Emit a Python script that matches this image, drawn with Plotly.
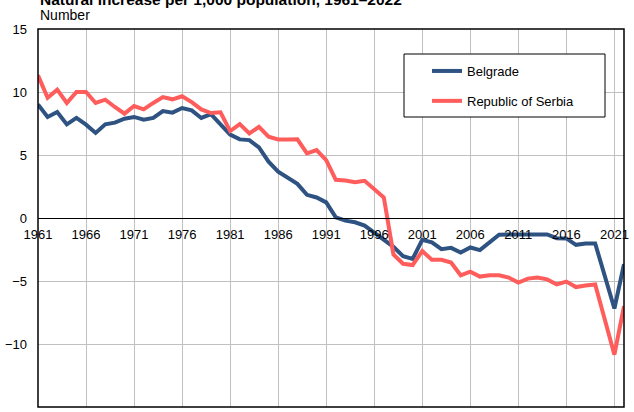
import plotly.graph_objects as go

years = list(range(1961, 2023))

belgrade = [9.0, 8.02, 8.41, 7.43, 7.94, 7.41, 6.75, 7.43, 7.57, 7.88,
            8.02, 7.80, 7.94, 8.49, 8.36, 8.73, 8.54, 7.94, 8.25, 7.49,
            6.62, 6.24, 6.18, 5.6, 4.47, 3.68, 3.24, 2.71, 1.84, 1.63,
            1.24, 0.05, -0.21, -0.34, -0.6, -1.18, -1.71, -2.29, -3.03, -3.24,
            -1.74, -1.94, -2.47, -2.37, -2.74, -2.34, -2.55, -1.94, -1.33, -1.30,
            -1.30, -1.30, -1.30, -1.30, -1.6, -1.62, -2.13, -2.02, -2.02, -4.47,
            -7.18, -3.67]

serbia = [11.32, 9.55, 10.19, 9.13, 10.0, 10.0, 9.13, 9.39, 8.81, 8.28,
          8.89, 8.62, 9.13, 9.6, 9.42, 9.66, 9.2, 8.62, 8.33, 8.39,
          6.9, 7.45, 6.71, 7.24, 6.45, 6.24, 6.24, 6.25, 5.13, 5.39,
          4.6, 3.03, 2.97, 2.84, 2.95, 2.24, 1.63, -2.89, -3.63, -3.73,
          -2.62, -3.32, -3.32, -3.54, -4.55, -4.26, -4.65, -4.55, -4.55, -4.73,
          -5.13, -4.81, -4.73, -4.87, -5.27, -5.05, -5.48, -5.35, -5.27, -8.06,
          -10.85, -6.99]

x_ticks = list(range(1961, 2022, 5))
y_ticks = [-15, -10, -5, 0, 5, 10, 15]

title_text = "Natural increase per 1,000 population, 1961–2022"
unit_text = "Number"

FONT = "Liberation Sans, Arial, sans-serif"

fig = go.Figure()
fig.add_trace(go.Scatter(x=years, y=belgrade, mode="lines", name="Belgrade",
                         line=dict(color="#2E5282", width=4), legendgroup="a"))
fig.add_trace(go.Scatter(x=years, y=serbia, mode="lines", name="Republic of Serbia",
                         line=dict(color="#FF5C5C", width=4), legendgroup="b"))

L, R, T, B = 38, 10, 29, 5
W, H = 634, 412
pw, ph = W - L - R, H - T - B

def px2x(px):
    return (px - L) / pw

def py2y(py):
    return (H - B - py) / ph

fig.update_layout(
    width=W, height=H,
    margin=dict(l=L, r=R, t=T, b=B),
    plot_bgcolor="white", paper_bgcolor="white",
    font=dict(family=FONT, size=13, color="black"),
    showlegend=True,
    legend=dict(x=px2x(427), y=py2y(56), xanchor="left", yanchor="top",
                bgcolor="rgba(0,0,0,0)", borderwidth=0,
                font=dict(size=13), tracegroupgap=10, traceorder="grouped"),
    xaxis=dict(range=[1961, 2022], tickvals=x_ticks, ticktext=[str(v) for v in x_ticks],
               showgrid=True, gridcolor="#C0C0C0", gridwidth=1,
               anchor="free", position=0.5, showline=True, linecolor="black", linewidth=1,
               ticks="", ticklabelstandoff=4, zeroline=False),
    yaxis=dict(range=[-15, 15], tickvals=y_ticks,
               showgrid=True, gridcolor="#C0C0C0", gridwidth=1,
               ticks="", ticklabelstandoff=10, zeroline=False, showline=False),
    shapes=[
        dict(type="rect", xref="paper", yref="paper", x0=0, x1=1, y0=0, y1=1,
             line=dict(color="black", width=1.5), layer="above"),
        dict(type="rect", xref="paper", yref="paper",
             x0=px2x(404), x1=px2x(605), y0=py2y(117), y1=py2y(54),
             line=dict(color="black", width=1), fillcolor="white", layer="above"),
    ],
    annotations=[
        dict(text="<b>" + title_text + "</b>", xref="paper", yref="paper",
             x=px2x(38), y=py2y(10), xanchor="left", yanchor="bottom",
             showarrow=False, font=dict(size=15.5)),
        dict(text=unit_text, xref="paper", yref="paper",
             x=px2x(38), y=py2y(15), xanchor="left", yanchor="middle",
             showarrow=False, font=dict(size=14)),
    ],
)

fig.write_html("out.html",
               config={"displayModeBar": False},
               post_script="document.body.style.margin='0';document.body.style.padding='0';")
